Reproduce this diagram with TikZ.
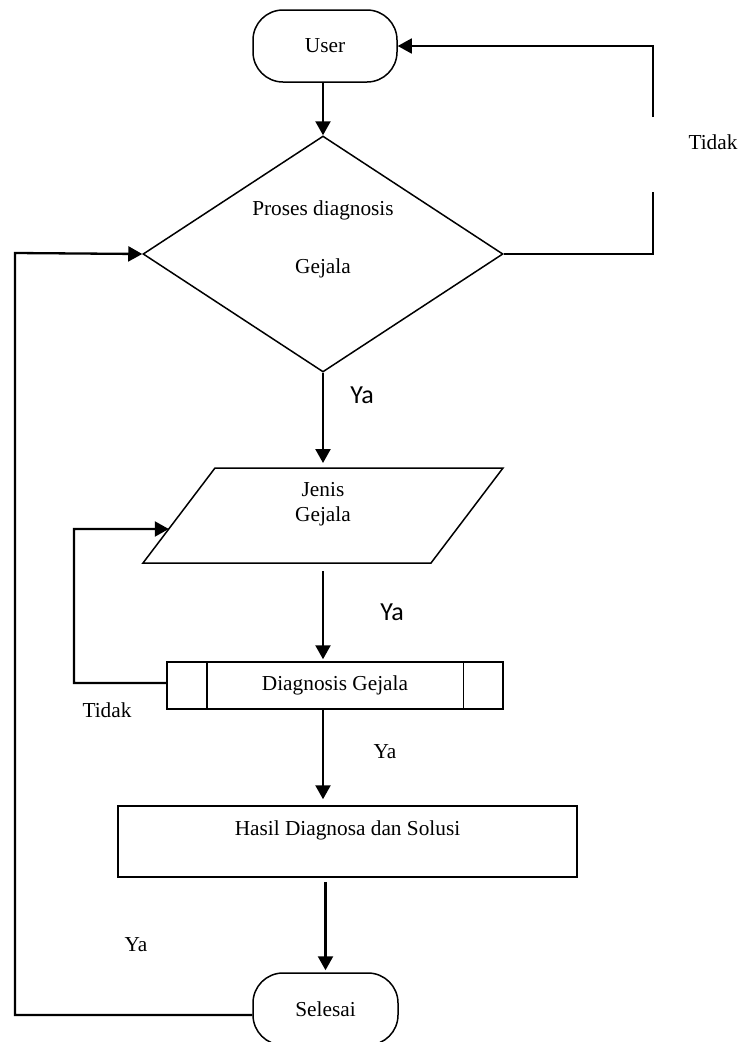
\documentclass[tikz,border=0pt]{standalone}
\usepackage{fontspec}
\setmainfont{Liberation Serif}
\newfontfamily\yafont{Carlito}
\usetikzlibrary{arrows.meta,shapes.geometric,calc}

\begin{document}
\begin{tikzpicture}[x=1pt,y=-1pt,
  every node/.append style={font=\fontsize{21.3}{25}\selectfont},
  box/.style={draw,line width=1.5pt,inner sep=0pt},
  term/.style={box,rounded corners=30pt,minimum width=144pt,minimum height=72pt},
  flow/.style={line width=2.3pt,-{Triangle[length=14pt,width=15pt]}},
  thinflow/.style={line width=1.3pt},
  lbl/.style={inner sep=0pt,align=center},
  yalbl/.style={inner sep=0pt,font=\yafont\fontsize{26}{30}\selectfont}]
\useasboundingbox (0,0) rectangle (743,1042);
\clip (0,0) rectangle (743,1042);
\fill[white] (0,0) rectangle (743,1042);

% shapes
\node[term] (user) at (325,46) {User};
\node[box,diamond,minimum width=360pt,minimum height=236pt] (dec) at (323,254) {};
\node[lbl] (dectop) at (323,210) {Proses diagnosis};
\node[lbl] (decbot) at (323,268) {Gejala};

% input parallelogram
\coordinate (jbl) at (143,563);
\coordinate (jtl) at (215,468);
\coordinate (jtr) at (503,468);
\coordinate (jbr) at (431,563);
\coordinate (jtop) at (323,468);
\coordinate (jbot) at (323,563);
\draw[line width=1.5pt,line join=miter] (jbl) -- (jtl) -- (jtr) -- (jbr) -- cycle;
\node[lbl] (jenistext) at (323,504) {Jenis\\Gejala};

\node[box,minimum width=336pt,minimum height=47pt] (diag) at (335,685.5) {Diagnosis Gejala};
\draw[line width=1.5pt] ($(diag.north west)+(40.5,0)$) -- ($(diag.south west)+(40.5,0)$);
\draw[line width=1.5pt] ($(diag.north east)+(-40.5,0)$) -- ($(diag.south east)+(-40.5,0)$);

\node[box,minimum width=459pt,minimum height=71pt] (hasil) at (347.5,841.5) {};
\node[lbl] (hasiltext) at (347.5,830) {Hasil Diagnosa dan Solusi};

\node[term,minimum width=145pt] (end) at (325.5,1009) {Selesai};

% main flow
\draw[flow] (user.south -| dec.north) -- (dec.north);
\draw[flow,shorten >=5pt] (dec.south) -- (jtop);
\draw[flow,shorten <=8pt,shorten >=2pt] (jbot) -- (jbot |- diag.north);
\draw[flow,shorten >=6pt] (jbot |- diag.south) -- (jbot |- hasil.north);
\draw[flow,shorten <=4pt,shorten >=2pt] (hasil.south -| end.north) -- (end.north);

% loop back to User
\coordinate (gapbottom) at (653,192);
\coordinate (gaptop) at (653,117);
\draw[thinflow] (dec.east) -| (gapbottom);
\draw[flow,line width=1.7pt] (gaptop) |- (user.east);

% loop back from Selesai to the decision
\coordinate (leftrail) at (15,253);
\draw[flow] ($(end.west)+(0,6)$) -| (leftrail) -- (dec.west);

% loop back from Diagnosis Gejala to Jenis Gejala
\coordinate (midrail) at (74,529);
\draw[flow] ($(diag.west)+(0,-2.5)$) -| (midrail) -- ($(jbl)!0.358!(jtl)$);

% labels
\node[lbl] (tidaktop) at (713,142) {Tidak};
\node[lbl] (tidakmid) at (107,710) {Tidak};
\node[yalbl] (ya1) at (362,395) {Ya};
\node[yalbl] (ya2) at (392,612) {Ya};
\node[lbl] (ya3) at (385,752) {Ya};
\node[lbl] (ya4) at (136,945) {Ya};
\end{tikzpicture}
\end{document}
